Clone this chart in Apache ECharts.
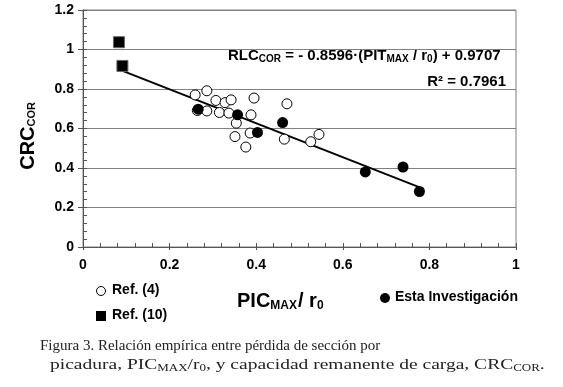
<!DOCTYPE html>
<html>
<head>
<meta charset="utf-8">
<script src="https://cdn.jsdelivr.net/npm/echarts@6/dist/echarts.min.js"></script>
<style>
  html, body { margin: 0; padding: 0; background: #fff; }
  #chart { width: 563px; height: 387px; }
</style>
</head>
<body>
<div id="chart"></div>
<script>
// Ref. (4): open circles [PIC_MAX/r0, CRC_COR]
const ref4X = [0.259, 0.286, 0.307, 0.328, 0.342, 0.395, 0.471, 0.264, 0.286, 0.315, 0.337, 0.388, 0.354, 0.386, 0.351, 0.376, 0.465, 0.526, 0.545];
const ref4Y = [0.770, 0.791, 0.742, 0.731, 0.745, 0.754, 0.725, 0.691, 0.689, 0.681, 0.678, 0.669, 0.627, 0.577, 0.559, 0.506, 0.546, 0.533, 0.570];
// Ref. (10): filled squares
const ref10X = [0.083, 0.091];
const ref10Y = [1.037, 0.917];
// Esta Investigación: filled circles
const estaX = [0.266, 0.357, 0.403, 0.461, 0.652, 0.739, 0.777];
const estaY = [0.698, 0.669, 0.580, 0.630, 0.380, 0.405, 0.281];
// regression line RLC = -0.8596 x + 0.9707 drawn over the data range
const fitSlope = -0.8596;
const fitIntercept = 0.9707;
const fitX = [0.09, 0.785];

const zip = (xs, ys) => xs.map((x, i) => [x, ys[i]]);
const fitData = fitX.map(x => [x, fitSlope * x + fitIntercept]);

const chart = echarts.init(document.getElementById('chart'));

const bold = { fontFamily: 'Liberation Sans', fontWeight: 'bold', color: '#000' };
const fmt = v => (Math.round(v * 10) / 10).toString();
const tickColor = '#555';

// second axis only carries the inner ticks (major + minor)
const innerAxis = (min, max, pos) => ({
  type: 'value', min: min, max: max, interval: 0.2, position: pos,
  axisLine: { show: false },
  axisTick: { show: true, inside: true, length: 4, lineStyle: { color: tickColor } },
  minorTick: { show: true, splitNumber: 5, length: 4, lineStyle: { color: tickColor } },
  splitLine: { show: false },
  axisLabel: { show: false }
});

const option = {
  animation: false,
  backgroundColor: '#fff',
  grid: { left: 83, right: 47, top: 10, bottom: 140, show: true, borderColor: '#808080', borderWidth: 1 },
  xAxis: [{
    type: 'value', min: 0, max: 1, interval: 0.2,
    axisLine: { lineStyle: { color: tickColor, width: 1 } },
    axisTick: { length: 3, lineStyle: { color: tickColor } },
    splitLine: { show: false },
    axisLabel: Object.assign({ fontSize: 14, margin: 11, formatter: fmt }, bold)
  }, innerAxis(0, 1, 'bottom')],
  yAxis: [{
    type: 'value', min: 0, max: 1.2, interval: 0.2,
    axisLine: { lineStyle: { color: tickColor, width: 1 } },
    axisTick: { length: 5, lineStyle: { color: tickColor } },
    splitLine: { show: true, lineStyle: { color: '#808080', width: 1 } },
    axisLabel: Object.assign({ fontSize: 14, margin: 9, formatter: fmt }, bold)
  }, innerAxis(0, 1.2, 'left')],
  series: [{
    name: 'fit', type: 'line', data: fitData, symbol: 'none',
    lineStyle: { color: '#000', width: 2 }, z: 2
  }, {
    name: 'Ref. (4)', type: 'scatter', data: zip(ref4X, ref4Y), symbol: 'circle', symbolSize: 10,
    itemStyle: { color: '#fff', borderColor: '#000', borderWidth: 1, opacity: 1 }, z: 3
  }, {
    name: 'Ref. (10)', type: 'scatter', data: zip(ref10X, ref10Y), symbol: 'rect', symbolSize: 11,
    itemStyle: { color: '#000', borderColor: '#666', borderWidth: 1, opacity: 1 }, z: 4
  }, {
    name: 'Esta Investigación', type: 'scatter', data: zip(estaX, estaY), symbol: 'circle', symbolSize: 11,
    itemStyle: { color: '#000', opacity: 1 }, z: 5
  }],
  graphic: [
    {
      type: 'text', left: 18, top: 102, rotation: Math.PI / 2, originX: 0, originY: 0,
      style: {
        text: '{b|CRC}{s|COR}',
        rich: {
          b: { fontFamily: 'Liberation Sans', fontWeight: 'bold', fontSize: 20, fill: '#000' },
          s: { fontFamily: 'Liberation Sans', fontWeight: 'bold', fontSize: 11, fill: '#000', padding: [8, 0, 0, 0] }
        }
      }
    },
    {
      type: 'text', left: 237, top: 291,
      style: {
        text: '{b|PIC}{s|MAX}{b|/ r}{s|0}',
        rich: {
          b: { fontFamily: 'Liberation Sans', fontWeight: 'bold', fontSize: 20, fill: '#000' },
          s: { fontFamily: 'Liberation Sans', fontWeight: 'bold', fontSize: 12, fill: '#000', padding: [9, 1, 0, 0] }
        }
      }
    },
    {
      type: 'text', left: 228, top: 48,
      style: {
        text: '{b|RLC}{s|COR}{b| = - 0.8596·(PIT}{s|MAX}{b| / r}{s|0}{b|) + 0.9707}',
        rich: {
          b: { fontFamily: 'Liberation Sans', fontWeight: 'bold', fontSize: 15, fill: '#000' },
          s: { fontFamily: 'Liberation Sans', fontWeight: 'bold', fontSize: 10, fill: '#000', padding: [7, 0, 0, 0] }
        }
      }
    },
    {
      type: 'text', right: 57, top: 74,
      style: { text: 'R² = 0.7961', font: 'bold 15px "Liberation Sans"', fill: '#000' }
    },
    // legend
    { type: 'circle', shape: { cx: 101, cy: 291, r: 4.5 }, style: { fill: '#fff', stroke: '#000', lineWidth: 1 } },
    { type: 'text', left: 112, top: 283, style: { text: 'Ref. (4)', font: 'bold 14px "Liberation Sans"', fill: '#000' } },
    { type: 'rect', shape: { x: 96, y: 311, width: 10, height: 10 }, style: { fill: '#000' } },
    { type: 'text', left: 112, top: 308, style: { text: 'Ref. (10)', font: 'bold 14px "Liberation Sans"', fill: '#000' } },
    { type: 'circle', shape: { cx: 385, cy: 298, r: 5 }, style: { fill: '#000' } },
    { type: 'text', left: 395, top: 290, style: { text: 'Esta Investigación', font: 'bold 14px "Liberation Sans"', fill: '#000' } },
    // caption
    {
      type: 'text', left: 40, top: 339,
      style: { text: 'Figura 3. Relación empírica entre pérdida de sección por', font: '15px "Liberation Serif"', fill: '#222' }
    },
    {
      type: 'text', x: 50, y: 357, scaleX: 1.3,
      style: {
        text: '{t|picadura, PIC}{s|MAX}{t|/r}{s|0}{t|, y capacidad remanente de carga, CRC}{s|COR}{t|.}',
        rich: {
          t: { fontFamily: 'Liberation Serif', fontSize: 15, fill: '#222' },
          s: { fontFamily: 'Liberation Serif', fontSize: 10, fill: '#222', padding: [6, 0, 0, 0] }
        }
      }
    }
  ]
};

chart.setOption(option);
</script>
</body>
</html>
